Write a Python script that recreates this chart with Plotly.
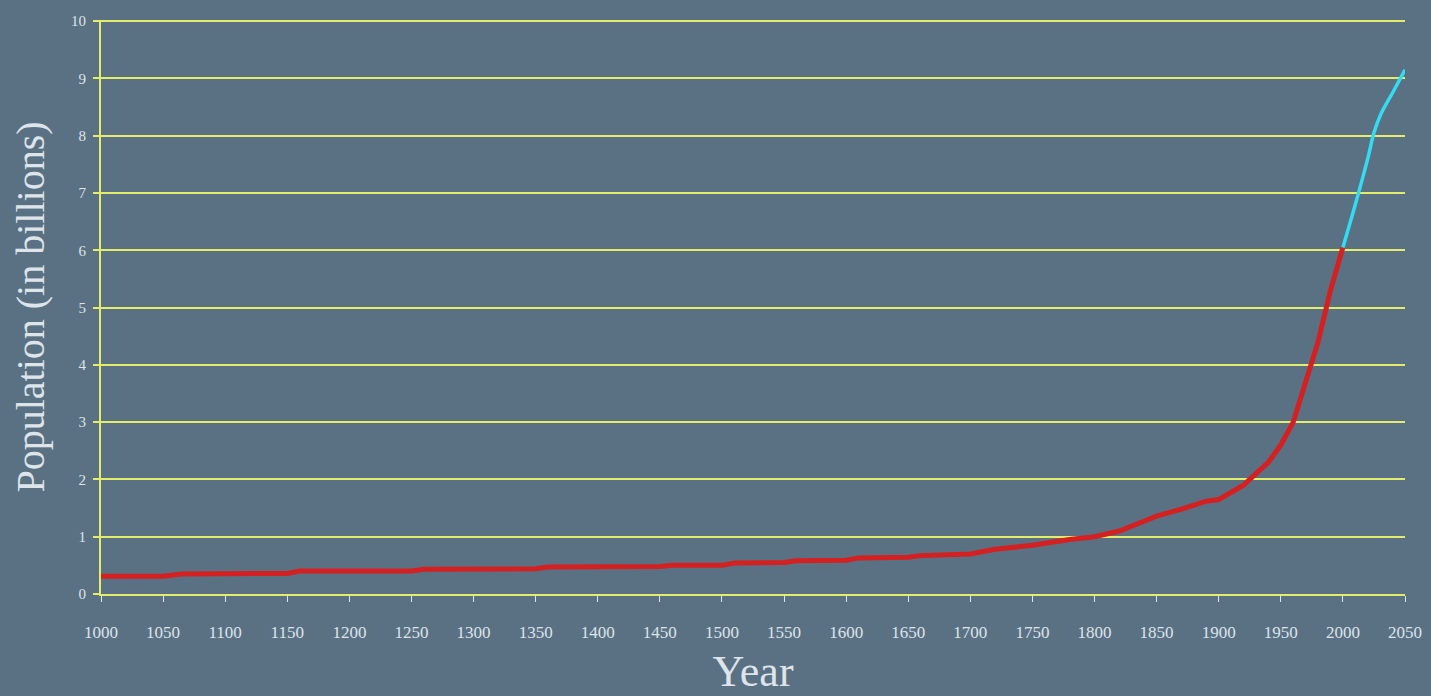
import plotly.graph_objects as go

hist_years = [1000, 1050, 1065, 1100, 1150, 1160, 1200, 1250, 1260, 1300, 1350, 1360, 1400,
              1450, 1460, 1500, 1510, 1550, 1560, 1600, 1610, 1650, 1660, 1700, 1720, 1750,
              1780, 1800, 1820, 1850, 1870, 1890, 1900, 1920, 1930, 1940, 1950, 1960, 1970,
              1980, 1990, 2000]
hist_pop = [0.31, 0.31, 0.35, 0.35, 0.36, 0.40, 0.40, 0.40, 0.43, 0.43, 0.44, 0.47, 0.47,
            0.48, 0.50, 0.50, 0.54, 0.55, 0.58, 0.59, 0.63, 0.64, 0.67, 0.70, 0.78, 0.85,
            0.95, 1.00, 1.10, 1.36, 1.48, 1.62, 1.65, 1.90, 2.10, 2.30, 2.60, 3.00, 3.70,
            4.40, 5.30, 6.05]
proj_years = [2000, 2010, 2020, 2025, 2030, 2040, 2050]
proj_pop = [6.05, 6.80, 7.60, 8.05, 8.35, 8.75, 9.15]

x_ticks = list(range(1000, 2051, 50))
y_ticks = list(range(0, 11))

BG = "#5a7184"
GRID = "#e4ec6c"
TXT = "#dde4ea"
FONT = "Liberation Serif"

fig = go.Figure()
fig.add_trace(go.Scatter(x=hist_years, y=hist_pop, mode="lines",
                         line=dict(color="#d42020", width=5), showlegend=False))
fig.add_trace(go.Scatter(x=proj_years, y=proj_pop, mode="lines",
                         line=dict(color="#33dcf0", width=3.5, shape="spline"), showlegend=False))

fig.update_layout(
    width=1431, height=696,
    paper_bgcolor=BG, plot_bgcolor=BG,
    margin=dict(l=101, r=26, t=20, b=102),
    font=dict(family=FONT, color=TXT),
    xaxis=dict(range=[1000, 2050], tickvals=x_ticks, ticktext=[str(v) for v in x_ticks],
               showgrid=False, zeroline=False, showline=True, linecolor=GRID, linewidth=2,
               ticks="outside", ticklen=6, tickcolor=TXT, tickwidth=1, automargin=False,
               tickfont=dict(size=17, color=TXT, family=FONT), ticklabelstandoff=16,
               title=dict(text="Year", font=dict(size=44, color=TXT, family=FONT), standoff=14)),
    yaxis=dict(range=[0, 10.02], tickvals=y_ticks, ticktext=[str(v) for v in y_ticks],
               showgrid=True, gridcolor=GRID, gridwidth=2, zeroline=False,
               showline=True, linecolor=GRID, linewidth=2, automargin=False,
               ticks="outside", ticklen=6, tickcolor=GRID, tickwidth=2,
               tickfont=dict(size=15, color=TXT, family=FONT), ticklabelstandoff=4,
               title=dict(text="Population (in billions)", font=dict(size=40, color=TXT, family=FONT), standoff=14)),
)

fig.write_html("out.html", config={"displayModeBar": False},
               post_script="document.body.style.margin='0';document.body.style.background='#5a7184';")
